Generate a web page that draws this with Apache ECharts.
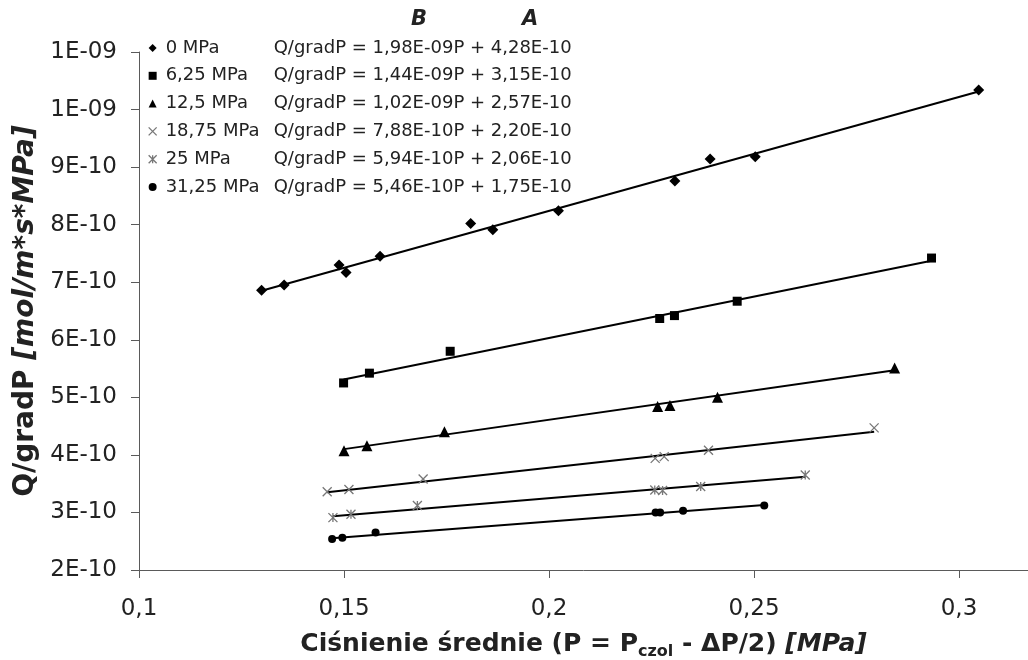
<!DOCTYPE html>
<html>
<head>
<meta charset="utf-8">
<script src="https://cdn.jsdelivr.net/npm/echarts@6/dist/echarts.min.js"></script>
<style>
  html, body { margin: 0; padding: 0; background: #fff; }
  #chart { width: 1028px; height: 660px; }
</style>
</head>
<body>
<div id="chart"></div>
<script>
// series names and the trend line coefficients shown in the legend (Q/gradP = B*P + A)
const pressures = ["0 MPa", "6,25 MPa", "12,5 MPa", "18,75 MPa", "25 MPa", "31,25 MPa"];
const coefB = [1.98e-9, 1.44e-9, 1.02e-9, 7.88e-10, 5.94e-10, 5.46e-10];
const coefA = [4.28e-10, 3.15e-10, 2.57e-10, 2.20e-10, 2.06e-10, 1.75e-10];

// measured points: mean pressure P [MPa] and Q/gradP
const p0 = [0.1299, 0.1354, 0.1488, 0.1505, 0.1588, 0.1809, 0.1863, 0.2023, 0.2307, 0.2393, 0.2503, 0.3048];
const q0 = [6.86e-10, 6.95e-10, 7.30e-10, 7.17e-10, 7.45e-10, 8.02e-10, 7.91e-10, 8.24e-10, 8.76e-10, 9.14e-10, 9.18e-10, 1.034e-9];
const p1 = [0.1499, 0.1562, 0.1759, 0.2270, 0.2306, 0.2459, 0.2933];
const q1 = [5.25e-10, 5.42e-10, 5.80e-10, 6.37e-10, 6.42e-10, 6.67e-10, 7.42e-10];
const p2 = [0.1500, 0.1556, 0.1745, 0.2265, 0.2295, 0.2411, 0.2843];
const q2 = [4.07e-10, 4.16e-10, 4.40e-10, 4.84e-10, 4.86e-10, 5.00e-10, 5.51e-10];
const p3 = [0.1459, 0.1512, 0.1693, 0.2259, 0.2281, 0.2389, 0.2793];
const q3 = [3.36e-10, 3.40e-10, 3.58e-10, 3.94e-10, 3.97e-10, 4.08e-10, 4.47e-10];
const p4 = [0.1473, 0.1517, 0.1679, 0.2258, 0.2277, 0.2370, 0.2625];
const q4 = [2.91e-10, 2.97e-10, 3.12e-10, 3.39e-10, 3.38e-10, 3.45e-10, 3.65e-10];
const p5 = [0.1471, 0.1496, 0.1577, 0.2260, 0.2271, 0.2327, 0.2525];
const q5 = [2.54e-10, 2.56e-10, 2.65e-10, 3.00e-10, 3.00e-10, 3.03e-10, 3.12e-10];

const xTicks = [0.1, 0.15, 0.2, 0.25, 0.3];

const P = [p0, p1, p2, p3, p4, p5];
const Q = [q0, q1, q2, q3, q4, q5];

const FONT = "DejaVu Sans";
const crossPath = "path://M0,0L8,8M8,0L0,8";
const starPath = "path://M0,0L8,8M8,0L0,8M4,0L4,8";

const markers = [
  { symbol: "diamond", size: 11 },
  { symbol: "rect", size: 9 },
  { symbol: "triangle", size: 11 },
  { symbol: crossPath, size: 9, border: "#777" },
  { symbol: starPath, size: 9, border: "#777" },
  { symbol: "circle", size: 8 },
];

function sci(v) {
  // Excel-like "1,98E-09"
  const [m, e] = v.toExponential(2).split("e");
  const n = Math.abs(+e);
  return m.replace(".", ",") + "E" + (+e < 0 ? "-" : "+") + String(n).padStart(2, "0");
}

function sciShort(v) {
  const [m, e] = v.toExponential(0).split("e");
  const n = Math.abs(+e);
  return m + "E" + (+e < 0 ? "-" : "+") + String(n).padStart(2, "0");
}

function markStyle(mk) {
  return mk.border
    ? { color: "transparent", borderColor: mk.border, borderWidth: 1.3, opacity: 1 }
    : { color: "#000", opacity: 1 };
}

const series = [];
pressures.forEach((name, i) => {
  const mk = markers[i];
  series.push({
    name: name,
    type: "scatter",
    symbol: mk.symbol,
    symbolSize: mk.size,
    z: 3,
    itemStyle: markStyle(mk),
    data: P[i].map((p, k) => [p, Q[i][k]]),
  });
  const lo = Math.min(...P[i]);
  const hi = Math.max(...P[i]);
  series.push({
    name: "trend " + name,
    type: "line",
    showSymbol: false,
    silent: true,
    z: 2,
    lineStyle: { color: "#000", width: 2 },
    data: [
      [lo, coefB[i] * lo + coefA[i]],
      [hi, coefB[i] * hi + coefA[i]],
    ],
  });
});

const chart = echarts.init(document.getElementById("chart"));

chart.setOption({
  animation: false,
  textStyle: { fontFamily: FONT },
  grid: { left: 139, top: 52, right: 0, bottom: 90, containLabel: false, outerBoundsMode: "none" },
  legend: {
    data: pressures.map((name, i) => ({
      name: name,
      icon: markers[i].symbol,
      itemStyle: markStyle(markers[i]),
    })),
    orient: "vertical",
    left: 148,
    top: 39,
    padding: 0,
    itemWidth: 8,
    itemHeight: 8,
    itemGap: 9.8,
    selectedMode: false,
    formatter: (name) => {
      const i = pressures.indexOf(name);
      return "{n|" + name + "}{e|Q/gradP = " + sci(coefB[i]) + "P + " + sci(coefA[i]) + "}";
    },
    textStyle: {
      fontFamily: FONT,
      rich: {
        n: { fontFamily: FONT, fontSize: 18, color: "#222", width: 108, padding: [0, 0, 0, 4] },
        e: { fontFamily: FONT, fontSize: 18, color: "#222" },
      },
    },
  },
  xAxis: {
    type: "value",
    min: 0.1,
    max: 0.1 + 889 / 4100,
    interval: 0.05,
    name: "{b|Ciśnienie średnie (P = P}{s|czol}{b| - ΔP/2) }{i|[MPa]}",
    nameLocation: "middle",
    nameGap: 58,
    nameTextStyle: {
      rich: {
        b: { fontFamily: FONT, fontSize: 25, fontWeight: "bold", color: "#222", lineHeight: 32 },
        s: { fontFamily: FONT, fontSize: 16, fontWeight: "bold", color: "#222", lineHeight: 16, verticalAlign: "bottom" },
        i: { fontFamily: FONT, fontSize: 25, fontWeight: "bold", fontStyle: "italic", color: "#222", lineHeight: 32 },
      },
    },
    axisLine: { lineStyle: { color: "#5a5a5a", width: 1 } },
    axisTick: { length: 8, customValues: xTicks, lineStyle: { color: "#5a5a5a" } },
    axisLabel: {
      customValues: xTicks,
      margin: 28,
      fontFamily: FONT,
      fontSize: 23,
      color: "#222",
      formatter: (v) => String(+v.toFixed(2)).replace(".", ","),
    },
    splitLine: { show: false },
  },
  yAxis: {
    type: "value",
    min: 2e-10,
    max: 1.1e-9,
    interval: 1e-10,
    name: "{b|Q/gradP }{i|[mol/m*s*MPa]}",
    nameLocation: "middle",
    nameRotate: 90,
    nameGap: 96,
    nameTextStyle: {
      rich: {
        b: { fontFamily: FONT, fontSize: 28, fontWeight: "bold", color: "#222" },
        i: { fontFamily: FONT, fontSize: 28, fontWeight: "bold", fontStyle: "italic", color: "#222" },
      },
    },
    axisLine: { show: true, lineStyle: { color: "#5a5a5a", width: 1 } },
    axisTick: { show: true, length: 8, lineStyle: { color: "#5a5a5a" } },
    axisLabel: {
      margin: 22,
      fontFamily: FONT,
      fontSize: 23,
      color: "#222",
      formatter: (v) => sciShort(v),
    },
    splitLine: { show: false },
  },
  graphic: [
    {
      type: "text",
      left: 418 - 7,
      top: 9,
      style: { text: "B", fontFamily: FONT, fontSize: 21, fontWeight: "bold", fontStyle: "italic", fill: "#222" },
    },
    {
      type: "text",
      left: 529 - 7,
      top: 9,
      style: { text: "A", fontFamily: FONT, fontSize: 21, fontWeight: "bold", fontStyle: "italic", fill: "#222" },
    },
  ],
  series: series,
});
</script>
</body>
</html>
